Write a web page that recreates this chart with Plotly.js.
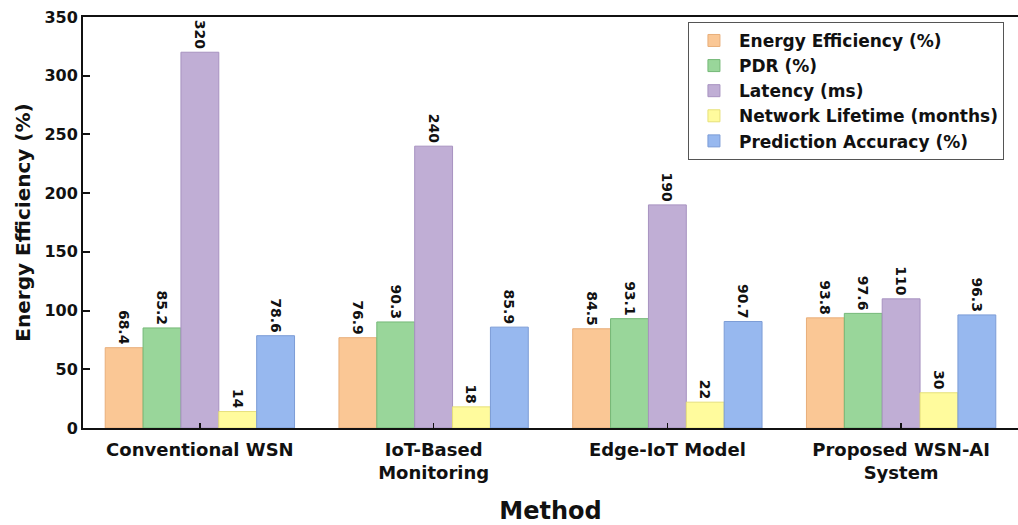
<!DOCTYPE html>
<html><head><meta charset="utf-8">
<script src="https://cdn.plot.ly/plotly-3.0.1.min.js"></script>
<style>body{margin:0;background:#fff}#c{width:1018px;height:525px}</style>
</head><body><div id="c"></div>
<script>
const categories = ["Conventional WSN", "IoT-Based<br>Monitoring", "Edge-IoT Model", "Proposed WSN-AI<br>System"];
const seriesNames = ["Energy Efficiency (%)", "PDR (%)", "Latency (ms)", "Network Lifetime (months)", "Prediction Accuracy (%)"];
const energyEfficiency = [68.4, 76.9, 84.5, 93.8];
const pdr = [85.2, 90.3, 93.1, 97.6];
const latency = [320, 240, 190, 110];
const networkLifetime = [14, 18, 22, 30];
const predictionAccuracy = [78.6, 85.9, 90.7, 96.3];
const yTicks = [0, 50, 100, 150, 200, 250, 300, 350];

const fills = ["#FAC795", "#99D69A", "#C0AED5", "#FFFB9D", "#97B8EF"];
const lines = ["#E8AE7A", "#74B877", "#A792C0", "#E6E07A", "#7C9CD6"];
const allSeries = [energyEfficiency, pdr, latency, networkLifetime, predictionAccuracy];
const FONT = "DejaVu Sans, Liberation Sans, Arial, sans-serif";

const traces = allSeries.map((vals, i) => ({
  type: "bar",
  name: seriesNames[i],
  x: categories,
  y: vals,
  text: vals.map(v => String(v)),
  textposition: "outside",
  textangle: 90,
  cliponaxis: false,
  constraintext: "none",
  textfont: {family: FONT, size: 14, color: "#111", weight: "bold"},
  marker: {color: fills[i], line: {color: lines[i], width: 1}},
  hoverinfo: "x+y+name"
}));

const layout = {
  width: 1018, height: 525,
  margin: {l: 83, r: 0, t: 17, b: 97},
  paper_bgcolor: "#fff", plot_bgcolor: "#fff",
  barmode: "group",
  bargap: 0.19,
  bargroupgap: 0,
  showlegend: true,
  font: {family: FONT, color: "#111"},
  legend: {
    x: 0.647, y: 0.988, xanchor: "left", yanchor: "top",
    bgcolor: "#fff", bordercolor: "#555", borderwidth: 1,
    font: {family: FONT, size: 17, color: "#111", weight: "bold"},
    tracegroupgap: 0, itemwidth: 40
  },
  xaxis: {
    type: "category",
    showline: true, linecolor: "#111", linewidth: 2, mirror: true,
    ticks: "inside", ticklen: 5, tickwidth: 1.5, tickcolor: "#111",
    ticklabelstandoff: 4,
    tickfont: {family: FONT, size: 18, color: "#111", weight: "bold"},
    title: {text: "Method", font: {family: FONT, size: 24, color: "#111", weight: "bold"}, standoff: 22},
    showgrid: false, zeroline: false, fixedrange: true
  },
  yaxis: {
    range: [0, 350],
    tickvals: yTicks,
    showline: true, linecolor: "#111", linewidth: 2,
    ticks: "inside", ticklen: 7, tickwidth: 2, tickcolor: "#111",
    tickfont: {family: FONT, size: 16, color: "#111", weight: "bold"},
    title: {text: "Energy Efficiency (%)", font: {family: FONT, size: 20, color: "#111", weight: "bold"}, standoff: 8},
    showgrid: false, zeroline: false, fixedrange: true
  }
};

Plotly.newPlot("c", traces, layout, {displayModeBar: false, staticPlot: true});
</script></body></html>
